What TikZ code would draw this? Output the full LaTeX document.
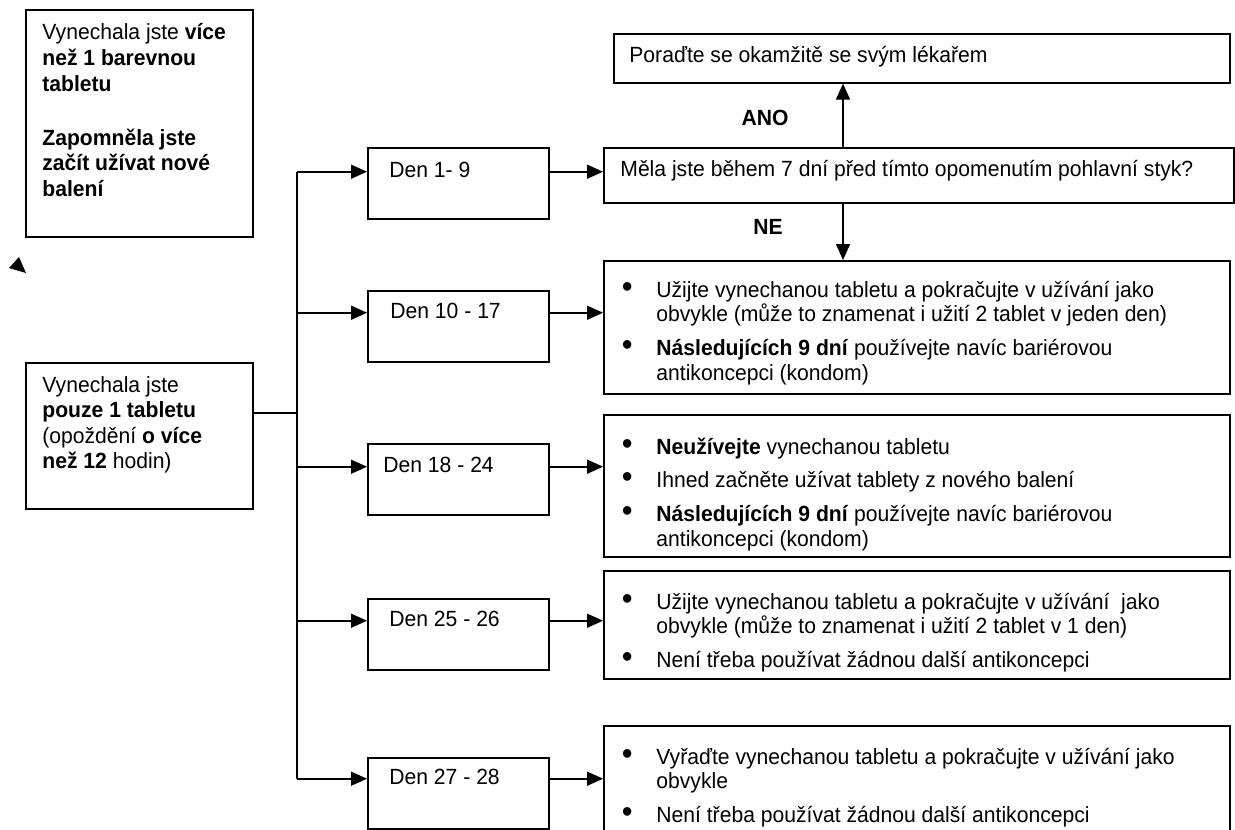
\documentclass[tikz,border=0pt]{standalone}
\usepackage{fontspec}
\setmainfont{Liberation Sans}[FakeStretch=0.96]
\usetikzlibrary{arrows.meta,positioning}
\newcommand{\widthday}{90.5pt}
\newcommand{\heightday}{35.5pt}
\newcommand{\widthnote}{313pt}
\newcommand{\widthside}{113.5pt}
\newcommand{\lines}[2]{\parbox[t]{#1}{#2}}
\newcommand{\bul}[1]{\par\noindent\hangindent=26.5pt\hangafter=1\makebox[26.5pt][l]{\hspace{9.2pt}{\fontsize{16}{16}\selectfont •}}#1}
\tikzset{
    frame/.style={draw, line width=0.8pt, anchor=north west, inner sep=0pt},
    day/.style={frame, minimum width=\widthday, minimum height=\heightday},
    note/.style={frame, minimum width=\widthnote},
    side/.style={frame, minimum width=\widthside},
    words/.style={anchor=base west, inner sep=0pt, font=\fontsize{11}{12.4}\selectfont},
    sidewords/.style={words, font=\fontsize{11}{12.75}\selectfont},
    tag/.style={inner sep=0pt, font=\fontsize{11}{12.4}\selectfont\bfseries},
    link/.style={line width=0.8pt},
    arr/.style={link, -{Triangle[length=8pt,width=7pt]}}
}
\begin{document}
\begin{tikzpicture}[x=0.5pt, y=-0.5pt]
    \useasboundingbox (0,0) rectangle (1235,829);

    % left column
    \node[side, minimum height=113.5pt] (several) at (25,9) {};
    \node[sidewords, xshift=8.5pt, yshift=-15.5pt] (severaltext) at (several.north west)
        {\lines{104pt}{Vynechala jste \textbf{více}\\ \textbf{než 1 barevnou}\\ \textbf{tabletu}\\[14.25pt]
        \textbf{Zapomněla jste}\\ \textbf{začít užívat nové}\\ \textbf{balení}}};
    \fill (19,257) -- (9,268) -- (26,273) -- cycle;

    \node[side, minimum height=73pt] (single) at (25,362) {};
    \node[sidewords, xshift=8.5pt, yshift=-15pt] (singletext) at (single.north west)
        {\lines{104pt}{Vynechala jste\\ \textbf{pouze 1 tabletu}\\ (opoždění \textbf{o více}\\ \textbf{než 12} hodin)}};

    % day boxes
    \path (367,147) node[day] (d1) {}
        ++(0,143) node[day] (d2) {}
        ++(0,153) node[day] (d3) {}
        ++(0,155) node[day] (d4) {}
        ++(0,159) node[day] (d5) {};
    \node[words, xshift=11pt, yshift=-15pt] (t1) at (d1.north west) {Den 1- 9};
    \node[words, xshift=11.5pt, yshift=-14pt] (t2) at (d2.north west) {Den 10 - 17};
    \node[words, xshift=8pt, yshift=-14.5pt] (t3) at (d3.north west) {Den 18 - 24};
    \node[words, xshift=11pt, yshift=-14pt] (t4) at (d4.north west) {Den 25 - 26};
    \node[words, xshift=11pt, yshift=-13.5pt] (t5) at (d5.north west) {Den 27 - 28};

    % right column
    \node[frame, minimum width=308pt, minimum height=24.5pt] (doctor) at (613,33) {};
    \node[words, xshift=8pt, yshift=-15pt] (doctortext) at (doctor.north west)
        {Poraďte se okamžitě se svým lékařem};
    \node[frame, minimum width=315pt, minimum height=27.5pt] (question) at (603,147) {};
    \node[words, xshift=8.5pt, yshift=-14.5pt] (questiontext) at (question.north west)
        {Měla jste během 7 dní před tímto opomenutím pohlavní styk?};

    \node[note, minimum height=66.5pt] (r2) at (603,260) {};
    \node[words, yshift=-18.5pt] (r2text) at (r2.north west)
        {\lines{305pt}{\setlength{\parskip}{4.5pt}%
        \bul{Užijte vynechanou tabletu a pokračujte v užívání jako\newline obvykle (může to znamenat i užití 2 tablet v jeden den)}
        \bul{\textbf{Následujících 9 dní} používejte navíc bariérovou\newline antikoncepci (kondom)}}};

    \node[note, minimum height=71pt] (r3) at (603,414) {};
    \node[words, yshift=-20pt] (r3text) at (r3.north west)
        {\lines{305pt}{\setlength{\parskip}{4.5pt}%
        \bul{\textbf{Neužívejte} vynechanou tabletu}
        \bul{Ihned začněte užívat tablety z nového balení}
        \bul{\textbf{Následujících 9 dní} používejte navíc bariérovou\newline antikoncepci (kondom)}}};

    \node[note, minimum height=54pt] (r4) at (603,570) {};
    \node[words, yshift=-19.5pt] (r4text) at (r4.north west)
        {\lines{305pt}{\setlength{\parskip}{4.5pt}%
        \bul{Užijte vynechanou tabletu a pokračujte v užívání\ \ jako\newline obvykle (může to znamenat i užití 2 tablet v 1 den)}
        \bul{Není třeba používat žádnou další antikoncepci}}};

    \node[note, minimum height=60pt] (r5) at (603,725) {};
    \node[words, yshift=-19.5pt] (r5text) at (r5.north west)
        {\lines{305pt}{\setlength{\parskip}{4.5pt}%
        \bul{Vyřaďte vynechanou tabletu a pokračujte v užívání jako\newline obvykle}
        \bul{Není třeba používat žádnou další antikoncepci}}};

    % connectors
    \coordinate (fork) at (297,413);
    \coordinate (answer) at (843,0);
    \draw[link] (single.east |- fork) -- (fork);
    \draw[link] (fork |- t1.mid) -- (fork |- t5.mid);
    \foreach \k/\r in {1/question, 2/r2, 3/r3, 4/r4, 5/r5} {
        \draw[arr] (fork |- t\k.mid) -- (d\k.west |- t\k.mid);
        \draw[arr] (d\k.east |- t\k.mid) -- (\r.west |- t\k.mid);
    }
    \draw[arr] (question.north -| answer) -- node[tag, xshift=-39pt, yshift=-1.5pt] (yes) {ANO} (doctor.south -| answer);
    \draw[arr] (question.south -| answer) -- node[tag, xshift=-37.5pt, yshift=2.5pt] (no) {NE} (r2.north -| answer);
\end{tikzpicture}
\end{document}
